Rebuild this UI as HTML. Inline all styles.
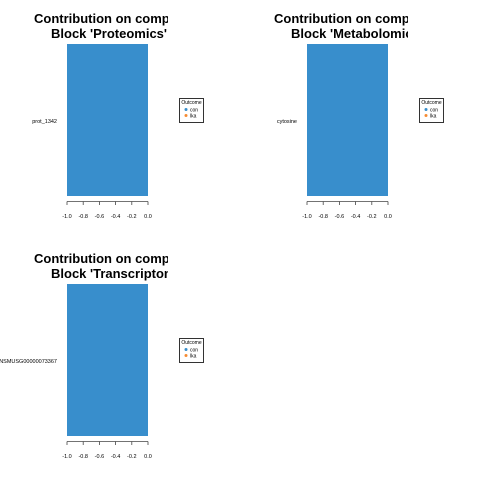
<!DOCTYPE html>
<html><head><meta charset="utf-8"><style>
body{margin:0;background:#fff;}
svg{display:block;font-family:"Liberation Sans",sans-serif;}
</style></head><body>
<svg id="c" width="480" height="480"></svg>
<script>
const blocks=["Proteomics","Metabolomics","Transcriptomics"];
const features=["prot_1342","cytosine","ENSMUSG00000073367"];
const values=[-1,-1,-1];
const ticks=[-1.0,-0.8,-0.6,-0.4,-0.2,0.0];
const tickLabels=["-1.0","-0.8","-0.6","-0.4","-0.2","0.0"];
const legendLabels=["con","lka"];
const legendColors=["#388ECC","#F68B33"];
const NS="http://www.w3.org/2000/svg";
const svg=document.getElementById('c');
function el(t,a,p){const e=document.createElementNS(NS,t);for(const k in a)e.setAttribute(k,a[k]);(p||svg).appendChild(e);return e;}
const offs=[[0,0],[240,0],[0,240]];
blocks.forEach((b,i)=>{
  const [ox,oy]=offs[i];
  const g=el('g',{transform:`translate(${ox},${oy})`});
  
  
  const x=v=>67+(v+1)*81;
  const cp=el('clipPath',{id:'cl'+i},g);el('rect',{x:0,y:0,width:168,height:44},cp);
  const tg=el('g',{'clip-path':`url(#cl${i})`},g);
  const t1=el('text',{x:34,y:23,'font-size':13,'font-weight':'bold',fill:'#000'},tg);t1.textContent="Contribution on comp 1";
  
  const t2=el('text',{x:51,y:38,'font-size':13,'font-weight':'bold',fill:'#000'},tg);t2.textContent="Block '"+b+"'";
  
  const bar=el('rect',{x:x(Math.min(values[i],0)),y:44,width:Math.abs(x(values[i])-x(0)),height:152,fill:'#388ECC'},g);
  
  const fl=el('text',{x:57,y:123,'font-size':5.5,'text-anchor':'end',fill:'#000'},g);fl.textContent=features[i];
  
  const ax=el('g',{},g);
  el('line',{x1:x(ticks[0]),x2:x(ticks[ticks.length-1]),y1:201.5,y2:201.5,stroke:'#444','stroke-width':0.8},ax);
  ticks.forEach((tv,j)=>{
    el('line',{x1:x(tv),x2:x(tv),y1:201.5,y2:205,stroke:'#444','stroke-width':0.8},ax);
    const tl=el('text',{x:x(tv),y:218,'font-size':5.5,'text-anchor':'middle',fill:'#000'},ax);tl.textContent=tickLabels[j];
  });
  const lg=el('g',{},g);
  el('rect',{x:179.5,y:98.5,width:24,height:24,fill:'#fff',stroke:'#000','stroke-width':0.8},lg);
  const lt=el('text',{x:191.5,y:104,'font-size':5,'text-anchor':'middle'},lg);lt.textContent="Outcome";
  legendLabels.forEach((l,j)=>{
    const e=el('circle',{cx:186,cy:109.5+j*6,r:1.5,fill:legendColors[j]},lg);
    
    const tx=el('text',{x:190,y:111.5+j*6,'font-size':5},lg);tx.textContent=l;
  });
});
</script>
</body></html>
